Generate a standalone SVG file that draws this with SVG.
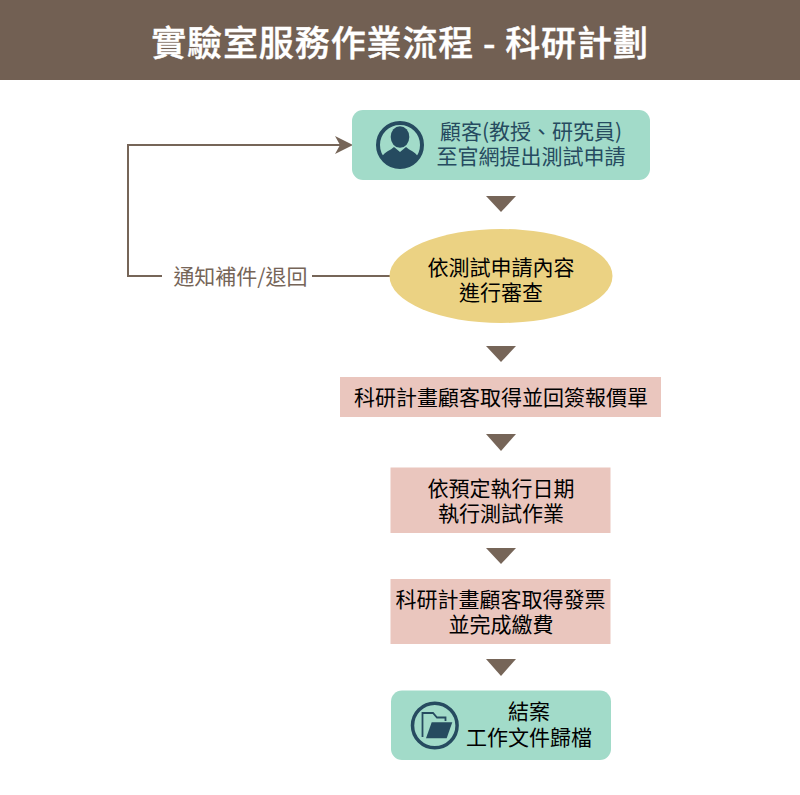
<svg xmlns="http://www.w3.org/2000/svg" width="800" height="795" viewBox="0 0 800 795">
<style>
text{font-family:"Noto Sans CJK TC","Noto Sans CJK SC",sans-serif;text-anchor:middle}
.t{font-size:21px;fill:#000}
.d{font-size:21px;fill:#264b60}
.l{font-size:21px;fill:#766558}
.tri{fill:#766558}
.teal{fill:#a2dbc9}
.pink{fill:#eac6be}
.icon{fill:#264b60}
</style>
<rect width="800" height="795" fill="#fff"/>
<g id="header"><rect width="800" height="80" fill="#726053"/>
<text x="400" y="56" font-size="35" font-weight="500" fill="#fff" stroke="#fff" stroke-width=".4" style="letter-spacing:.9px">實驗室服務作業流程 - 科研計劃</text></g>
<g id="connectors">
<path d="M390 276H312M162 276H128V145H340" fill="none" stroke="#766558" stroke-width="2"/>
<path d="M353 145L335 136L340 145L335 154Z" class="tri"/>
<path d="M486 196H516L501 212Z" class="tri"/>
<path d="M486 346H516L501 362Z" class="tri"/>
<path d="M486 434H516L501 451Z" class="tri"/>
<path d="M486 548H516L501 564Z" class="tri"/>
<path d="M486 659H516L501 676Z" class="tri"/>
<text class="l" x="240.500" y="283.500">通知補件/退回</text>
</g>
<g id="customer"><rect x="352" y="110" width="298" height="70" rx="11" class="teal"/>
<circle cx="400" cy="145" r="22" fill="none" stroke="#264b60" stroke-width="4"/>
<ellipse cx="400" cy="137" rx="9.300" ry="10.800" class="icon"/>
<path d="M382 157C384 152 391 150 394 147L400 152L406 147C409 150 416 152 418 157A21.600 21.600 0 0 1 382 157Z" class="icon"/>
<text class="d"><tspan x="531" y="139">顧客(教授、研究員)</tspan><tspan x="531" y="164">至官網提出測試申請</tspan></text></g>
<g id="review"><ellipse cx="501" cy="276" rx="111.500" ry="47" fill="#ebd283"/>
<text class="t"><tspan x="501" y="275">依測試申請內容</tspan><tspan x="501" y="300">進行審查</tspan></text></g>
<g id="quote"><rect x="340" y="377" width="321" height="40" class="pink"/>
<text class="t" x="501" y="405">科研計畫顧客取得並回簽報價單</text></g>
<g id="execute"><rect x="390.500" y="467.500" width="220" height="65.500" class="pink"/>
<text class="t"><tspan x="501" y="495.500">依預定執行日期</tspan><tspan x="501" y="521">執行測試作業</tspan></text></g>
<g id="invoice"><rect x="390.500" y="579" width="220" height="65" class="pink"/>
<text class="t"><tspan x="500.500" y="607">科研計畫顧客取得發票</tspan><tspan x="501" y="632">並完成繳費</tspan></text></g>
<g id="close"><rect x="391" y="690.500" width="220" height="69.500" rx="11" class="teal"/>
<circle cx="434.800" cy="725.500" r="22.300" fill="none" stroke="#264b60" stroke-width="3.500"/>
<path d="M422.500 737V713H433L437 717.500H445.500V721" fill="none" stroke="#264b60" stroke-width="1.800"/>
<path d="M426 738.300L431.700 722.300H452.300L446.700 738.300Z" class="icon"/>
<text class="t"><tspan x="529" y="719">結案</tspan><tspan x="529" y="745">工作文件歸檔</tspan></text></g>
</svg>
